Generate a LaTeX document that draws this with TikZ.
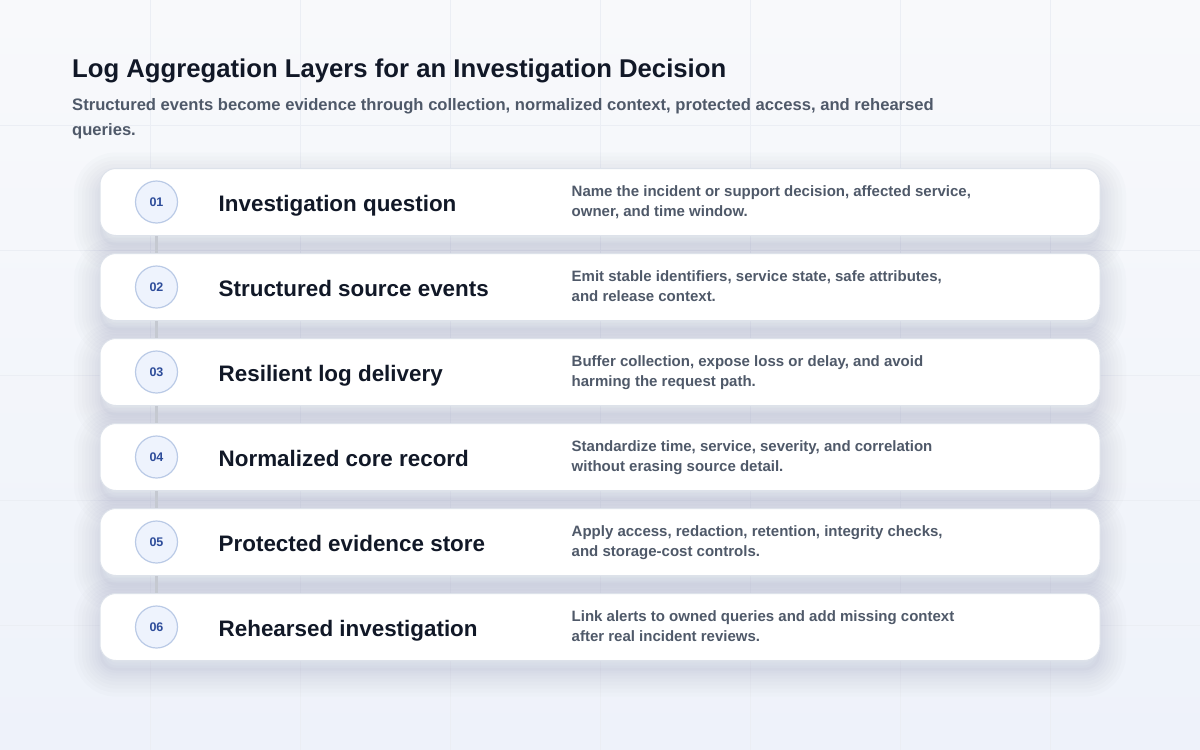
\documentclass[tikz,border=0pt]{standalone}
\usepackage{fontspec}
\setmainfont{Liberation Sans}
\usetikzlibrary{positioning, calc}

\definecolor{bgtop}{HTML}{F8F9FB}
\definecolor{bgbottom}{HTML}{EEF2FA}
\definecolor{gridline}{HTML}{EBEEF4}
\definecolor{cardline}{HTML}{DDE2EA}
\definecolor{shadowc}{HTML}{5A6A8C}
\definecolor{headtext}{HTML}{111827}
\definecolor{subtext}{HTML}{4F5969}
\definecolor{badgefill}{HTML}{EEF3FD}
\definecolor{badgeline}{HTML}{BACAE6}
\definecolor{badgetext}{HTML}{2D4C9A}
\definecolor{linkgray}{HTML}{C5C9D1}

\tikzset{
    halo/.style={preaction={draw=shadowc, draw opacity=0.02, line width=#1,
        transform canvas={yshift=-10pt}}},
    card/.style={draw=cardline, line width=1pt, fill=white, rounded corners=16pt,
        minimum width=1000pt, minimum height=67pt,
        halo=52pt, halo=44pt, halo=36pt, halo=29pt, halo=22pt, halo=16pt, halo=10pt, halo=5pt,
        preaction={fill=shadowc, fill opacity=0.03, transform canvas={yshift=-10pt}}},
    badge/.style={circle, draw=badgeline, line width=1.2pt, fill=badgefill,
        minimum size=42pt, inner sep=0pt, text=badgetext,
        font=\bfseries\fontsize{12.5}{14}\selectfont},
    layer/.style={anchor=base west, inner sep=0pt, text=headtext,
        font=\bfseries\fontsize{22.4}{26}\selectfont},
    note/.style={anchor=base west, inner sep=0pt, text=subtext,
        font=\bfseries\fontsize{15}{20}\selectfont},
    link/.style={draw=linkgray, line width=3pt},
}

\begin{document}
\begin{tikzpicture}[x=1pt, y=-1pt]

    \useasboundingbox (0,0) rectangle (1200,750);
    \shade[top color=bgtop, bottom color=bgbottom] (0,0) rectangle (1200,750);
    \foreach \gx in {150,300,...,1050} \draw[gridline, line width=0.8pt] (\gx,0) -- (\gx,750);
    \foreach \gy in {125,250,...,625} \draw[gridline, line width=0.8pt] (0,\gy) -- (1200,\gy);

    \node[anchor=base west, inner sep=0pt, text=headtext, font=\bfseries\fontsize{25.7}{30}\selectfont]
        (title) at (72,77) {Log Aggregation Layers for an Investigation Decision};
    \node[anchor=base west, inner sep=0pt, text=subtext, font=\bfseries\fontsize{16.6}{25}\selectfont]
        (subtitle) at (72,110) {\begin{tabular}[t]{@{}l@{}}
            Structured events become evidence through collection, normalized context, protected access, and rehearsed \\
            queries.
        \end{tabular}};

    % layer cards
    \node[card] (card1) at (600,202) {};
    \node[card] (card2) at ($(card1)+(0,85)$) {};
    \node[card] (card3) at ($(card2)+(0,85)$) {};
    \node[card] (card4) at ($(card3)+(0,85)$) {};
    \node[card] (card5) at ($(card4)+(0,85)$) {};
    \node[card] (card6) at ($(card5)+(0,85)$) {};

    \node[badge] (num1) at ($(card1.west)+(57,0)$) {01};
    \node[layer] (layer1) at ($(card1.west)+(119,9)$) {Investigation question};
    \node[note] (note1) at ($(card1.west)+(472,-5.5)$) {\begin{tabular}[t]{@{}l@{}}
        Name the incident or support decision, affected service, \\
        owner, and time window.
    \end{tabular}};

    \node[badge] (num2) at ($(card2.west)+(57,0)$) {02};
    \node[layer] (layer2) at ($(card2.west)+(119,9)$) {Structured source events};
    \node[note] (note2) at ($(card2.west)+(472,-5.5)$) {\begin{tabular}[t]{@{}l@{}}
        Emit stable identifiers, service state, safe attributes, \\
        and release context.
    \end{tabular}};

    \node[badge] (num3) at ($(card3.west)+(57,0)$) {03};
    \node[layer] (layer3) at ($(card3.west)+(119,9)$) {Resilient log delivery};
    \node[note] (note3) at ($(card3.west)+(472,-5.5)$) {\begin{tabular}[t]{@{}l@{}}
        Buffer collection, expose loss or delay, and avoid \\
        harming the request path.
    \end{tabular}};

    \node[badge] (num4) at ($(card4.west)+(57,0)$) {04};
    \node[layer] (layer4) at ($(card4.west)+(119,9)$) {Normalized core record};
    \node[note] (note4) at ($(card4.west)+(472,-5.5)$) {\begin{tabular}[t]{@{}l@{}}
        Standardize time, service, severity, and correlation \\
        without erasing source detail.
    \end{tabular}};

    \node[badge] (num5) at ($(card5.west)+(57,0)$) {05};
    \node[layer] (layer5) at ($(card5.west)+(119,9)$) {Protected evidence store};
    \node[note] (note5) at ($(card5.west)+(472,-5.5)$) {\begin{tabular}[t]{@{}l@{}}
        Apply access, redaction, retention, integrity checks, \\
        and storage-cost controls.
    \end{tabular}};

    \node[badge] (num6) at ($(card6.west)+(57,0)$) {06};
    \node[layer] (layer6) at ($(card6.west)+(119,9)$) {Rehearsed investigation};
    \node[note] (note6) at ($(card6.west)+(472,-5.5)$) {\begin{tabular}[t]{@{}l@{}}
        Link alerts to owned queries and add missing context \\
        after real incident reviews.
    \end{tabular}};

    % spine between the badges
    \draw[link] (num1 |- card1.south) -- (num2 |- card2.north);
    \draw[link] (num2 |- card2.south) -- (num3 |- card3.north);
    \draw[link] (num3 |- card3.south) -- (num4 |- card4.north);
    \draw[link] (num4 |- card4.south) -- (num5 |- card5.north);
    \draw[link] (num5 |- card5.south) -- (num6 |- card6.north);

\end{tikzpicture}
\end{document}
